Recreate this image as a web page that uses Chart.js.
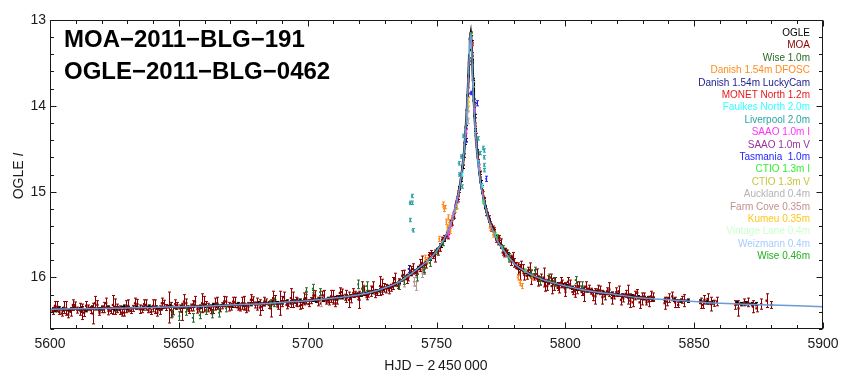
<!DOCTYPE html>
<html><head><meta charset="utf-8">
<script src="https://cdn.jsdelivr.net/npm/chart.js@4/dist/chart.umd.min.js"></script>
<style>html,body{margin:0;padding:0;background:#fff}#c{display:block}</style>
</head><body>
<canvas id="c" width="861" height="383" style="width:861px;height:383px"></canvas>
<script>
// ---------------- DATA ----------------
const xTicks = [5600, 5650, 5700, 5750, 5800, 5850, 5900];
const yTicks = [13, 14, 15, 16];
const seriesNames = ['OGLE','MOA','Wise 1.0m','Danish 1.54m DFOSC','Danish 1.54m LuckyCam','MONET North 1.2m','Faulkes North 2.0m','Liverpool 2.0m','SAAO 1.0m I','SAAO 1.0m V','Tasmania  1.0m','CTIO 1.3m I','CTIO 1.3m V','Auckland 0.4m','Farm Cove 0.35m','Kumeu 0.35m','Vintage Lane 0.4m','Weizmann 0.4m','Wise 0.46m'];

const modelT = [5600,5610,5620,5630,5640,5650,5660,5670,5680,5690,5700,5710,5720,5725,5730,5735,5740,5743,5746,5749,5751,5753,5755,5756,5757,5758,5759,5760,5760.5,5761,5761.5,5762,5762.5,5763,5763.2,5763.5,5764,5764.5,5765,5765.5,5766,5767,5768,5769,5770,5771,5772,5774,5776,5778,5781,5785,5790,5795,5800,5810,5820,5830,5840,5850,5860,5880,5900];
const modelM = [16.37,16.365,16.36,16.355,16.35,16.34,16.335,16.32,16.31,16.29,16.27,16.24,16.20,16.17,16.12,16.06,15.96,15.89,15.82,15.73,15.65,15.55,15.42,15.33,15.23,15.10,14.94,14.73,14.60,14.42,14.20,13.93,13.57,13.22,13.15,13.22,13.62,13.98,14.25,14.46,14.62,14.87,15.05,15.18,15.30,15.39,15.46,15.59,15.68,15.76,15.86,15.94,16.01,16.06,16.10,16.16,16.20,16.24,16.26,16.28,16.30,16.32,16.34];

const ogleT = [5601.2,5602.1,5603.3,5605.0,5607.8,5609.1,5611.5,5612.4,5614.0,5616.2,5618.9,5620.3,5622.6,5625.1,5626.0,5628.7,5630.2,5633.5,5636.1,5638.4,5641.0,5643.2,5646.5,5648.9,5651.3,5653.0,5655.6,5658.2,5660.1,5661.7,5663.4,5665.0,5667.2,5670.5,5672.8,5675.3,5678.0,5680.6,5683.1,5685.0,5686.4,5688.2,5690.1,5691.8,5693.5,5695.2,5697.0,5698.6,5701.9,5703.2,5704.8,5706.1,5707.7,5709.0,5710.6,5712.1,5713.5,5715.0,5716.4,5717.9,5719.3,5720.8,5722.2,5723.6,5725.1,5726.5,5727.9,5729.3,5731.0,5732.5,5734.0,5735.6,5737.1,5738.5,5740.0,5741.5,5743.0,5744.4,5745.9,5747.3,5748.8,5750.2,5751.6,5753.0,5754.3,5755.5,5756.5,5757.4,5758.2,5758.9,5759.5,5760.1,5760.6,5761.0,5761.4,5761.8,5762.1,5762.4,5762.7,5763.0,5763.3,5763.6,5763.9,5764.2,5764.5,5764.8,5765.1,5765.4,5765.8,5766.2,5766.7,5767.2,5767.8,5768.4,5769.0,5769.7,5770.5,5771.3,5772.2,5773.1,5774.1,5775.2,5776.4,5777.7,5779.1,5780.6,5782.2,5784.0,5785.8,5787.6,5789.5,5791.4,5793.2,5795.1,5797.0,5798.9,5800.8,5802.7,5804.6,5806.4,5808.3,5810.1,5812.0,5814.5,5816.2,5818.0,5820.3,5822.1,5824.4,5826.0,5828.2,5830.5,5832.1,5834.0,5838.6,5842.3,5845.0,5847.8,5852.4,5855.1,5857.0,5866.5,5868.3,5870.1,5872.4,5874.0];
const ogleM = [16.37,16.38,16.36,16.37,16.38,16.36,16.37,16.36,16.38,16.35,16.37,16.36,16.35,16.37,16.36,16.34,16.36,16.35,16.36,16.34,16.35,16.36,16.33,16.35,16.34,16.35,16.33,16.34,16.33,16.34,16.32,16.33,16.32,16.33,16.31,16.32,16.31,16.30,16.31,16.30,16.29,16.30,16.29,16.28,16.29,16.28,16.27,16.28,16.26,16.27,16.25,16.26,16.25,16.24,16.24,16.23,16.23,16.22,16.22,16.21,16.20,16.20,16.19,16.18,16.17,16.16,16.15,16.13,16.11,16.10,16.08,16.05,16.02,15.99,15.96,15.93,15.89,15.86,15.82,15.78,15.73,15.68,15.63,15.56,15.48,15.38,15.30,15.18,15.07,14.96,14.86,14.71,14.58,14.43,14.25,14.05,13.88,13.66,13.42,13.22,13.16,13.26,13.48,13.70,13.94,14.12,14.28,14.40,14.53,14.65,14.78,14.89,15.00,15.09,15.18,15.26,15.33,15.40,15.46,15.53,15.59,15.64,15.68,15.73,15.79,15.85,15.89,15.93,15.96,15.98,16.01,16.03,16.05,16.06,16.08,16.09,16.10,16.12,16.13,16.14,16.15,16.16,16.17,16.18,16.18,16.19,16.20,16.21,16.22,16.22,16.23,16.24,16.24,16.25,16.26,16.26,16.27,16.27,16.28,16.29,16.29,16.30,16.31,16.30,16.31,16.31];
const ogleErr = 0.02;

const moaT = [5601.0,5602.8,5604.5,5606.3,5608.0,5609.7,5611.5,5613.2,5614.9,5616.6,5618.4,5620.1,5621.8,5623.5,5625.3,5627.0,5628.7,5630.4,5632.2,5633.9,5635.6,5637.3,5639.1,5640.8,5642.5,5644.2,5646.0,5647.7,5649.4,5651.1,5652.9,5654.6,5656.3,5658.0,5659.8,5661.5,5663.2,5664.9,5666.7,5668.4,5670.1,5671.8,5673.6,5675.3,5677.0,5678.7,5680.5,5682.2,5683.9,5685.6,5687.4,5689.1,5690.8,5692.5,5694.3,5696.0,5697.7,5699.4,5701.2,5702.9,5704.6,5706.3,5708.1,5709.8,5711.5,5713.2,5715.0,5716.7,5718.4,5720.1,5721.9,5723.6,5725.3,5727.0,5728.8,5730.5,5732.2,5733.9,5735.6,5737.4,5739.1,5740.8,5742.5,5744.3,5746.0,5747.7,5749.4,5751.2,5752.9,5754.6,5756.0,5757.5,5758.8,5760.3,5761.2,5762.0,5762.6,5763.2,5763.8,5764.6,5765.3,5766.0,5766.8,5767.6,5768.5,5769.4,5770.3,5771.2,5772.5,5773.7,5774.9,5776.2,5777.5,5778.8,5780.1,5781.5,5782.8,5784.1,5785.4,5786.8,5788.1,5789.4,5790.7,5792.1,5793.4,5794.7,5796.0,5797.4,5798.7,5800.0,5801.8,5803.6,5805.4,5807.2,5809.0,5810.8,5812.6,5814.4,5816.2,5818.0,5819.8,5821.6,5823.4,5825.2,5827.0,5828.8,5830.6,5832.4,5834.2,5838.5,5840.3,5842.6,5845.1,5852.5,5854.0,5856.5,5858.8,5866.0,5869.5,5872.8,5876.0,5880.0];
const moaM = [16.39,16.34,16.42,16.36,16.40,16.32,16.37,16.41,16.35,16.42,16.32,16.37,16.30,16.39,16.34,16.38,16.41,16.33,16.36,16.31,16.37,16.32,16.40,16.34,16.38,16.30,16.35,16.39,16.32,16.40,16.30,16.35,16.28,16.37,16.31,16.35,16.38,16.30,16.33,16.28,16.34,16.29,16.36,16.30,16.34,16.26,16.31,16.34,16.28,16.36,16.26,16.30,16.23,16.31,16.26,16.29,16.32,16.24,16.27,16.21,16.27,16.21,16.29,16.23,16.26,16.17,16.22,16.25,16.19,16.26,16.15,16.19,16.11,16.18,16.11,16.13,16.12,16.02,16.05,15.97,16.00,15.90,15.93,15.83,15.84,15.72,15.75,15.65,15.54,15.50,15.35,15.15,14.98,14.66,14.35,13.95,13.50,13.17,13.40,14.00,14.35,14.60,14.80,14.96,15.11,15.24,15.32,15.42,15.46,15.57,15.60,15.71,15.72,15.80,15.83,15.90,15.86,15.97,15.92,16.00,15.96,16.04,16.00,16.09,16.03,16.10,16.05,16.12,16.07,16.14,16.08,16.16,16.10,16.19,16.13,16.21,16.14,16.23,16.16,16.24,16.17,16.26,16.19,16.27,16.21,16.29,16.22,16.28,16.23,16.30,16.24,16.29,16.26,16.30,16.26,16.31,16.28,16.32,16.29,16.34,16.31,16.32];
const moaE = [.04,.06,.03,.08,.05,.035,.07,.045,.03,.12, .05,.04,.06,.03,.09,.05,.04,.07,.035,.055, .04,.06,.03,.08,.05,.035,.18,.045,.03,.10, .05,.04,.06,.03,.09,.05,.04,.07,.035,.055, .04,.06,.03,.08,.05,.035,.07,.045,.03,.10, .05,.14,.06,.03,.09,.05,.04,.07,.035,.055, .04,.06,.03,.08,.05,.035,.07,.045,.03,.10, .05,.04,.06,.03,.09,.05,.04,.07,.035,.055, .04,.06,.03,.08,.05,.035,.07,.045,.03,.05, .04,.04,.03,.03,.03,.03,.02,.02,.02,.02, .03,.03,.03,.03,.03,.04,.04,.04,.04,.05, .05,.05,.04,.06,.05,.07,.05,.06,.04,.08, .05,.06,.04,.07,.05,.09,.05,.06,.04,.08, .05,.07,.05,.09,.04,.06,.05,.08,.04,.07, .05,.06,.04,.08,.05,.07,.04,.06,.05,.07, .05,.06,.04,.06,.05,.08,.05,.05,.04,.07, .06,.04];

const moa2T = [5601.9,5603.6,5605.4,5607.1,5608.9,5610.6,5612.3,5614.0,5615.8,5617.5,5619.2,5621.0,5622.7,5624.4,5626.1,5627.9,5629.6,5631.3,5633.0,5634.8,5636.5,5638.2,5640.0,5641.7,5643.4,5645.1,5646.9,5648.6,5650.3,5652.0,5653.8,5655.5,5657.2,5659.0,5660.7,5662.4,5664.1,5665.9,5667.6,5669.3,5671.1,5672.8,5674.5,5676.2,5678.0,5679.7,5681.4,5683.2,5684.9,5686.6,5688.3,5690.1,5691.8,5693.5,5695.3,5697.0,5698.7,5700.4,5702.2,5703.9,5705.6,5707.3,5709.1,5710.8,5712.5,5714.3,5716.0,5717.7,5719.4,5721.2,5722.9,5724.6,5726.3,5728.1,5729.8,5731.5,5733.2,5735.0,5736.7,5738.4,5740.1,5741.9,5743.6,5745.3,5747.1,5748.8,5750.5,5752.2,5753.9,5755.3,5756.8,5758.2,5759.5,5770.8,5772.0,5773.2,5774.4,5775.7,5777.0,5778.3,5779.6,5781.0,5782.3,5783.7,5785.0,5786.3,5787.7,5789.0,5790.3,5791.7,5793.0,5794.4,5795.7,5797.0,5798.4,5799.7,5801.0,5802.8,5804.5,5806.3,5808.1,5809.9,5811.7,5813.5,5815.3,5817.1,5818.9,5820.7,5822.5,5824.3,5826.1,5827.9,5829.7,5831.5,5833.3,5839.4,5841.5,5843.8,5846.2,5853.3,5855.2,5857.6,5867.2,5870.8,5874.2,5878.1];
const moa2M = [16.33,16.40,16.35,16.43,16.32,16.38,16.40,16.33,16.38,16.30, 16.41,16.35,16.39,16.32,16.36,16.41,16.34,16.39,16.30,16.37, 16.31,16.38,16.33,16.41,16.30,16.35,16.38,16.31,16.36,16.28, 16.39,16.33,16.37,16.30,16.33,16.38,16.31,16.37,16.28,16.34, 16.28,16.35,16.30,16.37,16.26,16.32,16.35,16.28,16.32,16.24, 16.34,16.28,16.32,16.24,16.28,16.33,16.25,16.31,16.21,16.28, 16.21,16.28,16.22,16.30,16.18,16.23,16.26,16.18,16.22,16.13, 16.23,16.16,16.19,16.10,16.12,16.15,16.07,16.10,15.98,16.02, 15.92,15.95,15.86,15.90,15.74,15.75,15.71,15.56,15.51,15.36, 15.28,15.09,14.82, 15.38,15.43,15.56,15.54,15.71,15.71,15.79, 15.76,15.86,15.94,15.90,15.98,15.91,16.00,15.96,16.04,16.00, 16.10,16.00,16.08,16.12,16.06,16.12,16.05,16.17,16.12,16.17, 16.11,16.16,16.22,16.15,16.22,16.14,16.22,16.16,16.24,16.20, 16.29,16.18,16.25,16.29,16.22,16.28,16.22,16.32,16.27,16.32, 16.25,16.30,16.36,16.29,16.36,16.27];
const moa2E = [.05,.03,.07,.04,.06,.035,.09,.05,.04,.08,.03,.06,.045,.11,.05,.04,.07,.03,.06,.05, .05,.03,.07,.04,.06,.035,.09,.05,.04,.08,.03,.06,.045,.11,.05,.04,.07,.03,.06,.05, .05,.03,.07,.04,.06,.035,.09,.05,.04,.08,.03,.06,.045,.11,.05,.04,.07,.03,.06,.05, .05,.03,.07,.04,.06,.035,.09,.05,.04,.08,.03,.06,.045,.11,.05,.04,.07,.03,.06,.05, .05,.03,.07,.04, .03,.03,.03,.03,.03,.03,.03,.03,.03,.03,.03,.03,.03,.03,.03,.03, .05,.035,.09,.05,.04,.08,.03,.06,.045,.11,.05,.04,.07,.03,.06,.05,.05,.03,.07,.04, .06,.035,.09,.05,.04,.08,.03,.06,.045,.11,.05,.04,.07,.03,.06,.05,.05,.03,.07,.04, .06,.035,.09,.05,.04,.08];

const wiseT = [5647.5,5650.2,5652.8,5655.4,5658.1,5660.5,5663.0,5665.6,5668.3,5685.2,5687.0,5699.5,5702.0,5704.8,5719.6,5721.5,5723.0,5735.5,5737.2,5742.5,5745.0,5747.4,5750.3,5752.6,5776.0,5778.3,5786.5,5788.2,5790.0,5793.8,5795.5,5804.0,5806.3];
const wiseM = [16.42,16.45,16.40,16.47,16.44,16.38,16.43,16.41,16.36,16.31,16.29,16.16,16.13,16.17,16.08,16.13,16.10,16.10,16.03,16.00,15.92,15.83,15.70,15.60,15.66,15.75,15.95,15.92,16.04,16.00,16.05,16.03,16.10];
const wiseE = [.04,.05,.04,.05,.04,.05,.04,.05,.04,.04,.05,.04,.05,.04,.05,.04,.05,.04,.05,.04,.04,.04,.03,.03,.03,.03,.04,.04,.05,.04,.05,.04,.05];

const danT = [5745.6,5746.4,5751.0,5752.4,5752.9,5753.3,5753.8,5754.2,5754.6,5755.0,5755.4,5756.2,5757.0,5770.6,5771.9,5781.5,5782.3,5783.0,5787.0];
const danM = [15.77,15.80,15.55,15.15,15.20,15.18,15.35,15.42,15.30,15.38,15.46,15.30,15.22,15.42,15.50,16.00,16.06,16.10,16.00];
const danE = [.03,.03,.03,.03,.03,.02,.03,.03,.03,.02,.03,.02,.02,.03,.03,.03,.03,.03,.03];

const lcT = [5739.2,5761.3], lcM = [15.90,14.40], lcE = [.04,.02];
const monT = [5758.5,5762.4,5763.6,5765.0,5768.0], monM = [15.02,13.70,13.28,14.22,15.03], monE = [.03,.02,.02,.02,.03];
const fnT = [5759.8,5766.3,5767.5], fnM = [14.80,14.66,14.93], fnE = [.02,.02,.02];
const lvT = [5739.6,5739.8,5740.5,5740.6,5740.7,5758.6,5758.8,5759.5,5759.8,5760.4,5766.1,5766.9,5768.1,5768.4,5768.5,5768.5,5768.6];
const lvM = [15.13,15.33,15.05,15.13,15.45,14.67,14.80,14.59,14.94,14.35,14.38,14.55,14.49,14.60,14.52,14.69,14.75];
const lvE = [.02,.02,.02,.02,.02,.02,.02,.02,.02,.02,.02,.02,.02,.02,.02,.02,.02];
const siT = [5754.5,5755.0,5755.5,5756.0,5756.5,5757.2,5757.8,5761.4,5764.7,5766.4];
const siM = [15.50,15.45,15.38,15.30,15.26,15.17,15.09,14.30,14.05,14.70];
const siE = [.03,.03,.03,.02,.02,.02,.02,.02,.02,.02];
const svT = [5762.2,5765.5], svM = [13.82,14.45], svE = [.03,.03];
const taT = [5761.5,5763.4,5765.6,5769.3], taM = [14.40,13.85,13.97,14.85], taE = [.02,.02,.03,.03];
const ciT = [5768.0,5772.8,5775.5,5784.5], ciM = [15.12,15.50,15.65,15.92], ciE = [.02,.02,.02,.02];
const cvT = [5757.8,5766.5], cvM = [15.17,14.72], cvE = [.03,.03];
const auT = [5762.0,5762.1,5762.2], auM = [14.10,14.18,14.03], auE = [.03,.03,.03];
const fcT = [5705.0,5737.5,5741.2,5742.0,5744.5], fcM = [16.28,16.06,16.05,16.10,15.95], fcE = [.06,.05,.05,.05,.05];
const kuT = [5762.2,5762.3,5762.3], kuM = [13.93,13.98,14.04], kuE = [.03,.03,.03];
const vlT = [5762.9,5764.2], vlM = [13.40,13.75], vlE = [.03,.03];
const wzT = [5763.1,5765.1], wzM = [13.30,14.28], wzE = [.03,.03];
const w46T = [5763.3,5773.5,5778.0], w46M = [13.17,15.53,15.78], w46E = [.02,.03,.03];

// ---------------- STYLE ----------------
const seriesColors = ['#000000','#8b0000','#246b24','#ff8c1a','#1c1c8c','#e8191c','#33ffff','#2ba5a5','#ff33ff','#993399','#1f1fff','#33ee33','#c8c43c','#b3b3b3','#c39090','#ffc61a','#ccffcc','#a6ccff','#22b022'];
const FONT = '"Liberation Sans", Arial, Helvetica, sans-serif';
Chart.defaults.font.family = FONT;

const seriesData = [
  [ogleT, ogleM, ogleT.map(() => ogleErr)],
  [moaT.concat(moa2T), moaM.concat(moa2M), moaE.concat(moa2E)],
  [wiseT, wiseM, wiseE], [danT, danM, danE], [lcT, lcM, lcE],
  [monT, monM, monE], [fnT, fnM, fnE], [lvT, lvM, lvE], [siT, siM, siE], [svT, svM, svE],
  [taT, taM, taE], [ciT, ciM, ciE], [cvT, cvM, cvE], [auT, auM, auE], [fcT, fcM, fcE],
  [kuT, kuM, kuE], [vlT, vlM, vlE], [wzT, wzM, wzE], [w46T, w46M, w46E]
];

const datasets = [{
  type: 'line', label: 'model',
  data: modelT.map((t, i) => ({x: t, y: modelM[i]})),
  borderColor: '#6b9bd2', borderWidth: 1.5, pointRadius: 0,
  cubicInterpolationMode: 'monotone', order: 0
}];
seriesData.forEach((s, k) => {
  const col = seriesColors[k];
  const ds = {
    type: 'scatter', label: seriesNames[k],
    data: s[0].map((t, i) => ({x: t, y: s[1][i]})),
    errs: s[2],
    pointStyle: 'rect', pointRadius: k === 0 ? 1.8 : (k === 1 ? 1.6 : 1.3),
    pointBackgroundColor: col, pointBorderWidth: 0,
    borderColor: col, backgroundColor: col,
    order: k === 0 ? 3 : (k === 1 ? 2 : 1),
    showLine: k === 0
  };
  if (k === 0) {
    ds.borderWidth = 2.4;
    ds.segment = { borderColor: c => (c.p1.parsed.x - c.p0.parsed.x > 3.6 ? 'rgba(0,0,0,0)' : '#000') };
  }
  datasets.push(ds);
});

const errPlugin = {
  id: 'errbars',
  beforeDatasetDraw(chart, args) {
    const ds = chart.data.datasets[args.index];
    if (!ds.errs) return;
    const {ctx, chartArea: a} = chart;
    const xs = chart.scales.x, ys = chart.scales.y;
    ctx.save();
    ctx.beginPath(); ctx.rect(a.left, a.top, a.right - a.left, a.bottom - a.top); ctx.clip();
    ctx.strokeStyle = ds.borderColor; ctx.lineWidth = 1;
    ctx.beginPath();
    ds.data.forEach((p, i) => {
      const e = ds.errs[i];
      const x = Math.round(xs.getPixelForValue(p.x)) + 0.5;
      const y1 = ys.getPixelForValue(p.y - e), y2 = ys.getPixelForValue(p.y + e);
      ctx.moveTo(x, y1); ctx.lineTo(x, y2);
      ctx.moveTo(x - 1.5, y1); ctx.lineTo(x + 1.5, y1);
      ctx.moveTo(x - 1.5, y2); ctx.lineTo(x + 1.5, y2);
    });
    ctx.stroke();
    ctx.restore();
  }
};

const framePlugin = {
  id: 'frame',
  afterDatasetsDraw(chart) {
    const {ctx, chartArea: a} = chart;
    const xs = chart.scales.x, ys = chart.scales.y;
    const L = Math.round(a.left) + 0.5, R = Math.round(a.right) - 0.5;
    const T = Math.round(a.top) + 0.5, B = Math.round(a.bottom) - 0.5;
    ctx.save();
    ctx.strokeStyle = '#1a1a1a'; ctx.lineWidth = 1;
    ctx.strokeRect(L, T, R - L, B - T);
    ctx.beginPath();
    const xMin = xs.min, xMax = xs.max;
    for (let v = xMin; v <= xMax + 1e-9; v += 10) {
      const x = Math.round(xs.getPixelForValue(v)) + 0.5;
      const len = (Math.round(v) % 50 === 0) ? 6 : 3.5;
      ctx.moveTo(x, B); ctx.lineTo(x, B - len);
      ctx.moveTo(x, T); ctx.lineTo(x, T + len);
    }
    for (let i = 0; i <= 18; i++) {
      const v = 13 + i * 0.2;
      const y = Math.round(ys.getPixelForValue(v)) + 0.5;
      const len = (i % 5 === 0) ? 6 : 3.5;
      ctx.moveTo(L, y); ctx.lineTo(L + len, y);
      ctx.moveTo(R, y); ctx.lineTo(R - len, y);
    }
    ctx.stroke();
    ctx.restore();
  }
};

const textPlugin = {
  id: 'texts',
  afterDraw(chart) {
    const ctx = chart.ctx;
    ctx.save();
    ctx.fillStyle = '#000';
    ctx.font = 'bold 24px ' + FONT;
    ctx.textAlign = 'left'; ctx.textBaseline = 'alphabetic';
    ctx.fillText('MOA\u22122011\u2212BLG\u2212191', 64, 47);
    ctx.fillText('OGLE\u22122011\u2212BLG\u22120462', 64, 79);
    ctx.font = '10px ' + FONT;
    ctx.textAlign = 'right'; ctx.textBaseline = 'middle';
    seriesNames.forEach((n, i) => {
      ctx.fillStyle = seriesColors[i];
      ctx.fillText(n, 810, 33.3 + i * 12.4);
    });
    ctx.fillStyle = '#1a1a1a';
    ctx.font = '14px ' + FONT;
    ctx.textAlign = 'center'; ctx.textBaseline = 'middle';
    ctx.fillText('HJD \u2212 2\u2009450\u2009000', 436, 366);
    ctx.translate(19, 176);
    ctx.rotate(-Math.PI / 2);
    const p1 = 'OGLE ', p2 = 'I';
    ctx.font = '14px ' + FONT;
    const w1 = ctx.measureText(p1).width;
    ctx.font = 'italic 14px ' + FONT;
    const w2 = ctx.measureText(p2).width;
    const x0 = -(w1 + w2) / 2;
    ctx.textAlign = 'left';
    ctx.font = '14px ' + FONT;
    ctx.fillText(p1, x0, 0);
    ctx.font = 'italic 14px ' + FONT;
    ctx.fillText(p2, x0 + w1, 0);
    ctx.restore();
  }
};

new Chart(document.getElementById('c'), {
  type: 'scatter',
  data: { datasets },
  options: {
    responsive: false, animation: false, devicePixelRatio: 1,
    layout: { padding: { left: 0, right: 38, top: 20, bottom: 0 } },
    plugins: { legend: { display: false }, tooltip: { enabled: false } },
    scales: {
      x: {
        type: 'linear', min: xTicks[0], max: xTicks[xTicks.length - 1],
        grid: { display: false, drawTicks: false }, border: { display: false },
        ticks: { stepSize: 50, autoSkip: false, maxRotation: 0, padding: 7, color: '#1a1a1a', font: { size: 14 }, callback: v => String(v) },
        afterBuildTicks: s => { s.ticks = xTicks.map(v => ({value: v})); },
        afterFit: s => { s.height = 54; }
      },
      y: {
        type: 'linear', reverse: true, min: 13, max: 16.6,
        grid: { display: false, drawTicks: false }, border: { display: false },
        ticks: { stepSize: 1, padding: 4, color: '#1a1a1a', font: { size: 14 }, callback: v => String(v) },
        afterBuildTicks: s => { s.ticks = yTicks.map(v => ({value: v})); },
        afterFit: s => { s.width = 50; }
      }
    }
  },
  plugins: [errPlugin, framePlugin, textPlugin]
});
</script>
</body></html>
